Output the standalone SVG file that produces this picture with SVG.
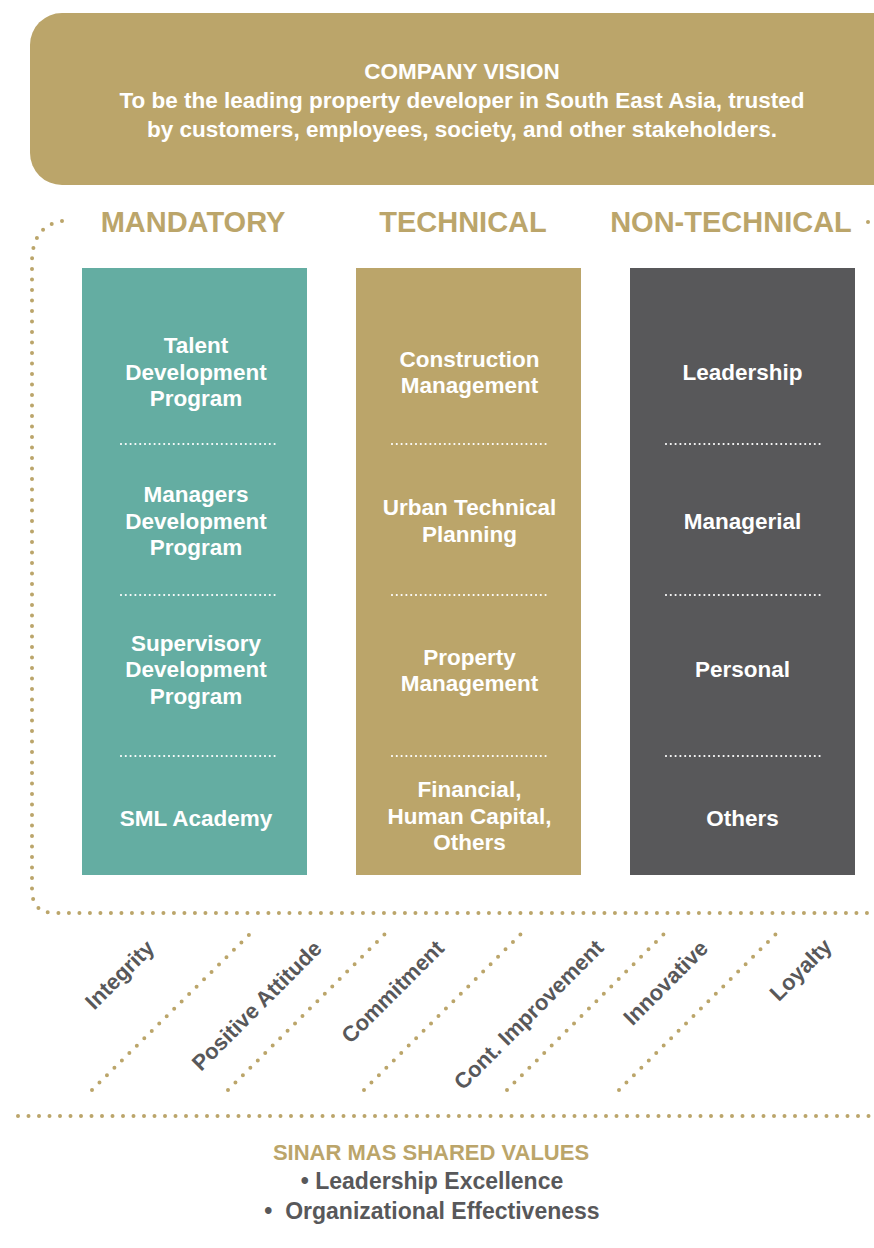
<svg xmlns="http://www.w3.org/2000/svg" width="874" height="1248" viewBox="0 0 874 1248">
<style>
text{font-family:"Liberation Sans",Arial,sans-serif;font-weight:bold;text-anchor:middle}
.w{fill:#ffffff;font-size:22.5px}
.vis{fill:#ffffff;font-size:22.5px}
.hd{fill:#bba56a;font-size:29px}
.val{fill:#58585a;font-size:22px}
.dot{fill:none;stroke:#bba56a;stroke-width:4;stroke-linecap:round;stroke-dasharray:0 10.5}
.wdot{fill:none;stroke:#ffffff;stroke-width:2.2;stroke-linecap:round;stroke-dasharray:0 4.8}
</style>
<rect width="874" height="1248" fill="#ffffff"/>
<g id="vision">
<rect x="30" y="13" width="880" height="172" rx="32" fill="#bba56a"/>
<text class="vis" x="462" y="79">COMPANY VISION</text>
<text class="vis" x="462" y="108">To be the leading property developer in South East Asia, trusted</text>
<text class="vis" x="462" y="137">by customers, employees, society, and other stakeholders.</text>
</g>
<g id="connectors">
<path class="dot" d="M62 221 Q32 226 32 262 L32 890 Q32 913 55 913 L874 913"/>
<circle cx="868" cy="222" r="2" fill="#bba56a"/>
<path class="dot" d="M92 1090 L254 930"/>
<path class="dot" d="M228 1090 L389 930"/>
<path class="dot" d="M364 1090 L525 930"/>
<path class="dot" d="M507 1090 L668 930"/>
<path class="dot" d="M619 1090 L780 930"/>
<path class="dot" d="M18 1116 L874 1116"/>
</g>
<g id="headers">
<text class="hd" x="193" y="232">MANDATORY</text>
<text class="hd" x="463" y="232">TECHNICAL</text>
<text class="hd" x="731" y="232">NON-TECHNICAL</text>
</g>
<g id="mandatory">
<rect x="82" y="268" width="225" height="607" fill="#64ada2"/>
<text class="w" x="196" y="353">Talent</text>
<text class="w" x="196" y="380">Development</text>
<text class="w" x="196" y="406">Program</text>
<path class="wdot" d="M121 444 L275 444"/>
<text class="w" x="196" y="502">Managers</text>
<text class="w" x="196" y="529">Development</text>
<text class="w" x="196" y="555">Program</text>
<path class="wdot" d="M121 595 L275 595"/>
<text class="w" x="196" y="651">Supervisory</text>
<text class="w" x="196" y="677">Development</text>
<text class="w" x="196" y="704">Program</text>
<path class="wdot" d="M121 756 L275 756"/>
<text class="w" x="196" y="826">SML Academy</text>
</g>
<g id="technical">
<rect x="356" y="268" width="225" height="607" fill="#bba56a"/>
<text class="w" x="469.5" y="367">Construction</text>
<text class="w" x="469.5" y="393">Management</text>
<path class="wdot" d="M392 444 L547 444"/>
<text class="w" x="469.5" y="515">Urban Technical</text>
<text class="w" x="469.5" y="542">Planning</text>
<path class="wdot" d="M392 595 L547 595"/>
<text class="w" x="469.5" y="665">Property</text>
<text class="w" x="469.5" y="691">Management</text>
<path class="wdot" d="M392 756 L547 756"/>
<text class="w" x="469.5" y="797">Financial,</text>
<text class="w" x="469.5" y="824">Human Capital,</text>
<text class="w" x="469.5" y="850">Others</text>
</g>
<g id="nontechnical">
<rect x="630" y="268" width="225" height="607" fill="#58585a"/>
<text class="w" x="742.5" y="380">Leadership</text>
<path class="wdot" d="M666 444 L821 444"/>
<text class="w" x="742.5" y="529">Managerial</text>
<path class="wdot" d="M666 595 L821 595"/>
<text class="w" x="742.5" y="677">Personal</text>
<path class="wdot" d="M666 756 L821 756"/>
<text class="w" x="742.5" y="826">Others</text>
</g>
<g id="values">
<text class="val" transform="translate(125 980) rotate(-45)">Integrity</text>
<text class="val" transform="translate(262 1011) rotate(-45)">Positive Attitude</text>
<text class="val" transform="translate(398 997) rotate(-45)">Commitment</text>
<text class="val" transform="translate(534 1020) rotate(-45)">Cont. Improvement</text>
<text class="val" transform="translate(671 988) rotate(-45)">Innovative</text>
<text class="val" transform="translate(806 975) rotate(-45)">Loyalty</text>
</g>
<g id="shared">
<text x="431" y="1160" fill="#bba56a" font-size="22">SINAR MAS SHARED VALUES</text>
<text x="432" y="1189" fill="#58585a" font-size="23">• Leadership Excellence</text>
<text x="432" y="1219" fill="#58585a" font-size="23" xml:space="preserve">•  Organizational Effectiveness</text>
</g>
</svg>
